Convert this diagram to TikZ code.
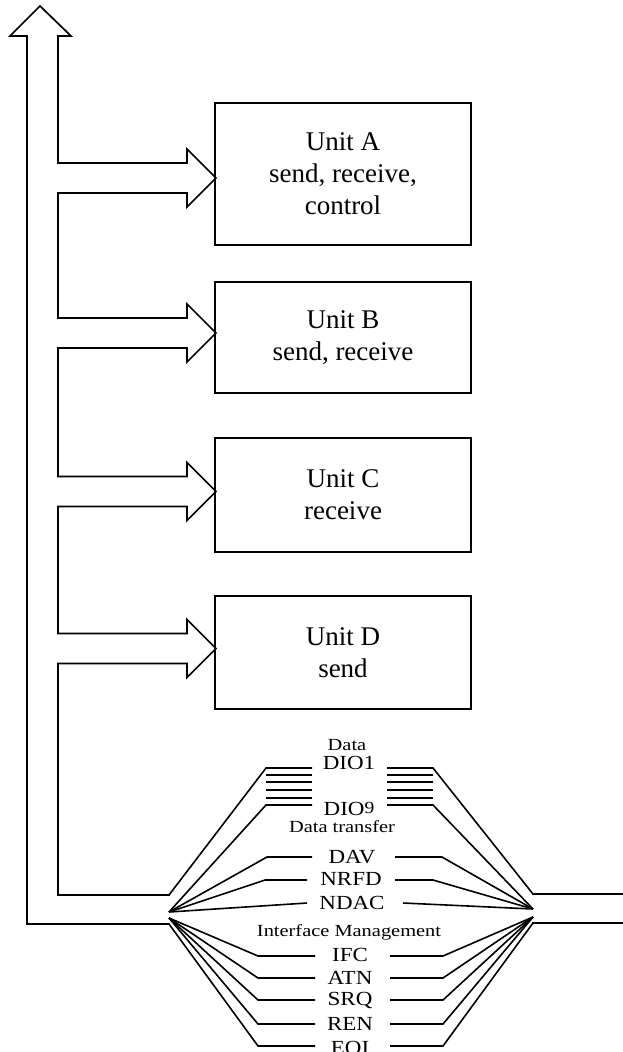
\documentclass[tikz,border=0pt]{standalone}
\usepackage{fontspec}
\setmainfont{Liberation Serif}
\newfontfamily\sigfont[FakeStretch=1.15]{Liberation Serif}
\newfontfamily\grpfont[FakeStretch=1.2]{Liberation Serif}

\begin{document}
\begin{tikzpicture}[x=1pt,y=-1pt,
  bus/.style={line width=1.7pt, line join=miter, line cap=rect},
  wire/.style={line width=1.6pt, line join=miter},
  unitbox/.style={draw, line width=2.3pt, minimum width=256pt, align=center,
    font=\fontsize{27}{32}\selectfont, inner sep=0pt},
  sig/.style={font=\sigfont\fontsize{20}{20}\selectfont, inner sep=0pt},
  grp/.style={font=\grpfont\fontsize{17}{17}\selectfont, inner sep=0pt}]
\useasboundingbox (0,0) rectangle (622,1052);

% units on the bus
\node[unitbox, minimum height=142pt] (ua) at (343,174) {Unit A\\send, receive,\\control};
\node[unitbox, minimum height=111pt] (ub) at (343,337.5) {Unit B\\send, receive};
\node[unitbox, minimum height=114pt] (uc) at (343,495) {Unit C\\receive};
\node[unitbox, minimum height=113pt] (ud) at (343,652.5) {Unit D\\send};

% hollow bus arrow with one branch per unit
\draw[bus] (169,924) -- (27,924) -- (27,36) -- (10,36) -- (40,6) -- (71,36) -- (58,36)
  foreach \c in {178,333,491.5,648.5} {
    -- (58,\c-15) -- (187,\c-15) -- (187,\c-29) -- (216,\c)
    -- (187,\c+29) -- (187,\c+15) -- (58,\c+15) }
  -- (58,895) -- (169,895);

% fan points where the cable splits into single lines
\coordinate (Lu) at (169,895);
\coordinate (Lc) at (169,912);
\coordinate (Ld) at (169,918);
\coordinate (Ll) at (169,924);
\coordinate (Ru) at (533,894);
\coordinate (Rc) at (533,909);
\coordinate (Rd) at (533,917);
\coordinate (Rl) at (533,923);

% cable continuing to the right
\draw[bus] (Ru) -- (623,894);
\draw[bus] (Rl) -- (623,923);

% data lines
\draw[wire] (Lu) -- (266,768) -- (312,768);
\draw[wire] (387,768) -- (433,768) -- (Ru);
\foreach \y in {775,782,790,798} {
  \draw[wire] (266,\y) -- (312,\y);
  \draw[wire] (387,\y) -- (433,\y);
}
\draw[wire] (Lc) -- (266,805) -- (312,805);
\draw[wire] (387,805) -- (433,805) -- (Rc);

% handshake lines
\draw[wire] (Lc) -- (267,857) -- (312,857);
\draw[wire] (395,857) -- (442,857) -- (Rc);
\draw[wire] (Lc) -- (265,880) -- (307,880);
\draw[wire] (395,880) -- (433,880) -- (Rc);
\draw[wire] (Lc) -- (307,903);
\draw[wire] (403,903) -- (Rc);

% management lines
\foreach \y in {956,978,1000,1024} {
  \draw[wire] (Ld) -- (258,\y) -- (315,\y);
  \draw[wire] (390,\y) -- (443,\y) -- (Rd);
}
\draw[wire] (Ll) -- (258,1046) -- (315,1046);
\draw[wire] (390,1046) -- (443,1046) -- (Rl);

% line labels
\node[grp] (gdata) at (347,745) {Data};
\node[sig] (dio1) at (349,763) {DIO1};
\node[sig] (dio9) at (349,809) {DIO\raisebox{2pt}{\fontsize{17}{17}\selectfont 9}};
\node[grp] (gxfer) at (342,827) {Data transfer};
\node[sig] (dav) at (352,857) {DAV};
\node[sig] (nrfd) at (351,879) {NRFD};
\node[sig] (ndac) at (352,903) {NDAC};
\node[grp] (gmgmt) at (349,932) {Interface Management};
\node[sig] (ifc) at (350,955) {IFC};
\node[sig] (atn) at (350,978) {ATN};
\node[sig] (srq) at (350,1000) {SRQ};
\node[sig] (ren) at (350,1024) {REN};
\node[sig] (eoi) at (350,1048) {EOI};
\end{tikzpicture}
\end{document}
